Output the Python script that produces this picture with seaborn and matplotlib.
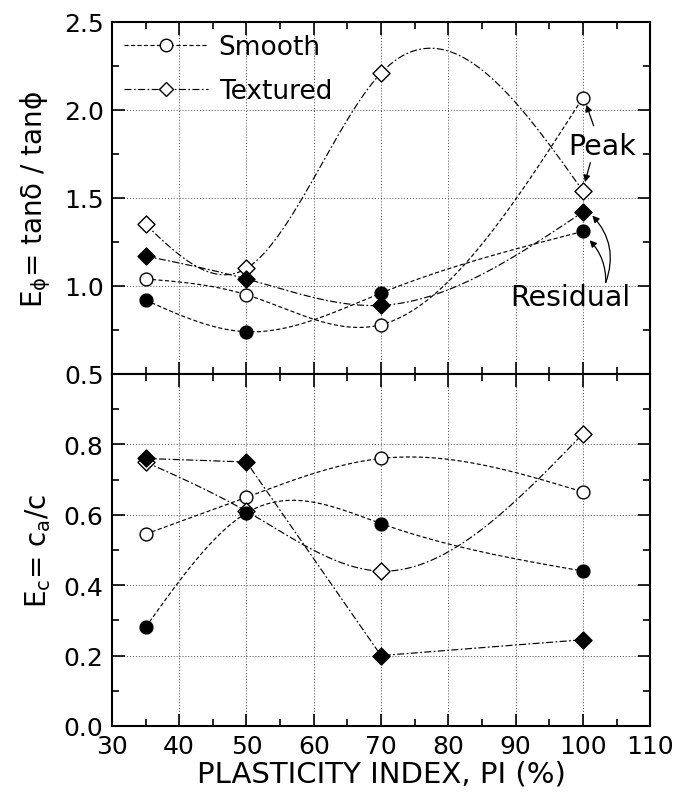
import matplotlib
matplotlib.use("Agg")
import matplotlib.pyplot as plt
from matplotlib.lines import Line2D
from matplotlib.ticker import MultipleLocator
import numpy as np
import pandas as pd
import seaborn as sns

pi = [35, 50, 70, 100]

# E_phi = tan(delta) / tan(phi)
ephi_smooth_peak = [1.04, 0.95, 0.78, 2.07]
ephi_textured_peak = [1.35, 1.10, 2.21, 1.54]
ephi_smooth_resid = [0.92, 0.74, 0.96, 1.31]
ephi_textured_resid = [1.17, 1.04, 0.89, 1.42]

# E_c = c_a / c
ec_smooth_peak = [0.545, 0.65, 0.76, 0.665]
ec_textured_peak = [0.75, 0.61, 0.44, 0.83]
ec_smooth_resid = [0.28, 0.605, 0.575, 0.44]
ec_textured_resid = [0.76, 0.75, 0.20, 0.245]

DASH = (0, (3.5, 2))
DASHDOT = (0, (6, 2, 1.5, 2))


def natural_spline(x, y, n=200):
    """Natural cubic spline used only to draw the connecting curve."""
    x = np.asarray(x, float)
    y = np.asarray(y, float)
    k = len(x)
    h = np.diff(x)
    A = np.zeros((k, k))
    b = np.zeros(k)
    A[0, 0] = A[-1, -1] = 1.0
    for i in range(1, k - 1):
        A[i, i - 1] = h[i - 1]
        A[i, i] = 2 * (h[i - 1] + h[i])
        A[i, i + 1] = h[i]
        b[i] = 6 * ((y[i + 1] - y[i]) / h[i] - (y[i] - y[i - 1]) / h[i - 1])
    M = np.linalg.solve(A, b)
    xs = np.linspace(x[0], x[-1], n)
    idx = np.clip(np.searchsorted(x, xs) - 1, 0, k - 2)
    x0, x1 = x[idx], x[idx + 1]
    hh = x1 - x0
    t0, t1 = x1 - xs, xs - x0
    ys = (M[idx] * t0 ** 3 + M[idx + 1] * t1 ** 3) / (6 * hh) \
        + (y[idx] / hh - M[idx] * hh / 6) * t0 \
        + (y[idx + 1] / hh - M[idx + 1] * hh / 6) * t1
    return xs, ys


def draw_series(ax, y, marker, filled, ls, smooth=True):
    if smooth:
        xs, ys = natural_spline(pi, y)
    else:
        xs, ys = pi, y
    ax.plot(xs, ys, color="black", lw=0.85, ls=ls, zorder=2)
    df = pd.DataFrame({"pi": pi, "v": y})
    sns.scatterplot(
        ax=ax, data=df, x="pi", y="v", marker=marker, s=85 if marker == "o" else 75,
        facecolor="black" if filled else "white", edgecolor="black",
        linewidth=1.0, zorder=3, legend=False,
    )


sns.set_theme(style="ticks")
plt.rcParams["font.family"] = ["DejaVu Sans"]
plt.rcParams["mathtext.fontset"] = "dejavusans"
for key in ("text.color", "axes.labelcolor", "xtick.color", "ytick.color",
            "xtick.labelcolor", "ytick.labelcolor"):
    plt.rcParams[key] = "black"

fig = plt.figure(figsize=(6.78, 8.04), dpi=100)
ax1 = fig.add_axes([0.165, 0.5336, 0.794, 0.4378])
ax2 = fig.add_axes([0.165, 0.0958, 0.794, 0.4378], sharex=ax1)

draw_series(ax1, ephi_smooth_peak, "o", False, DASH)
draw_series(ax1, ephi_textured_peak, "D", False, DASHDOT)
draw_series(ax1, ephi_smooth_resid, "o", True, DASH)
draw_series(ax1, ephi_textured_resid, "D", True, DASHDOT)

draw_series(ax2, ec_smooth_peak, "o", False, DASH)
draw_series(ax2, ec_textured_peak, "D", False, DASHDOT)
draw_series(ax2, ec_smooth_resid, "o", True, DASH)
draw_series(ax2, ec_textured_resid, "D", True, DASHDOT, smooth=False)

fs = 18
for ax in (ax1, ax2):
    ax.set_xlim(30, 110)
    ax.xaxis.set_major_locator(MultipleLocator(10))
    ax.xaxis.set_minor_locator(MultipleLocator(5))
    ax.grid(True, which="major", ls=(0, (1, 2)), color="0.3", lw=0.7)
    ax.tick_params(which="both", direction="in", top=True, right=True,
                   labelsize=fs, width=1.2, color="black")
    ax.tick_params(which="major", length=9, pad=6)
    ax.tick_params(which="minor", length=5)
    for sp in ax.spines.values():
        sp.set_linewidth(1.5)
        sp.set_color("black")
    ax.set_facecolor("white")

ax1.set_ylim(0.5, 2.5)
ax1.yaxis.set_minor_locator(MultipleLocator(0.25))
ax1.set_yticks([0.5, 1.0, 1.5, 2.0, 2.5])
ax1.set_yticklabels(["0.5", "1.0", "1.5", "2.0", "2.5"])
ax1.tick_params(axis="x", labelbottom=False)
ax1.set_xlabel("")
ax1.set_ylabel("E$_{\\mathregular{ϕ}}$= tanδ / tanϕ", fontsize=20, labelpad=8)

ax2.set_ylim(0.0, 1.0)
ax2.set_yticks([0.0, 0.2, 0.4, 0.6, 0.8])
ax2.yaxis.set_minor_locator(MultipleLocator(0.1))
ax2.set_yticklabels(["0.0", "0.2", "0.4", "0.6", "0.8"])
ax2.set_xlabel("PLASTICITY INDEX, PI (%)", fontsize=21, labelpad=1)
ax2.set_ylabel("E$_{\\mathregular{c}}$= c$_{\\mathregular{a}}$/c", fontsize=20, labelpad=8)

handles = [
    Line2D([], [], color="black", lw=0.85, ls=DASH, marker="o", ms=9,
           mfc="white", mec="black"),
    Line2D([], [], color="black", lw=0.85, ls=DASHDOT, marker="D", ms=7.5,
           mfc="white", mec="black"),
]
ax1.legend(handles, ["Smooth", "Textured"], loc="upper left", frameon=False,
           fontsize=19, handlelength=3.2, handletextpad=0.4,
           borderaxespad=0.1, labelspacing=0.7, borderpad=0.35)

# annotations
ax1.text(97.8, 1.795, "Peak", fontsize=20.5, va="center", ha="left")
ax1.annotate("", xy=(100.5, 2.03), xytext=(101.6, 1.91),
             arrowprops=dict(arrowstyle="-|>", color="black", lw=0.9,
                             mutation_scale=10, shrinkA=0, shrinkB=0))
ax1.annotate("", xy=(100.3, 1.59), xytext=(101.1, 1.70),
             arrowprops=dict(arrowstyle="-|>", color="black", lw=0.9,
                             mutation_scale=10, shrinkA=0, shrinkB=0))
ax1.text(89.2, 0.94, "Residual", fontsize=20.5, va="center", ha="left")
ax1.annotate("", xy=(101.4, 1.40), xytext=(103.4, 1.02),
             arrowprops=dict(arrowstyle="-|>", color="black", lw=0.9,
                             mutation_scale=10, shrinkA=0, shrinkB=0,
                             connectionstyle="arc3,rad=0.3"))
ax1.annotate("", xy=(101.0, 1.26), xytext=(103.4, 1.02),
             arrowprops=dict(arrowstyle="-|>", color="black", lw=0.9,
                             mutation_scale=10, shrinkA=0, shrinkB=0,
                             connectionstyle="arc3,rad=0.2"))

fig.savefig("out.png", dpi=100, facecolor="white")
